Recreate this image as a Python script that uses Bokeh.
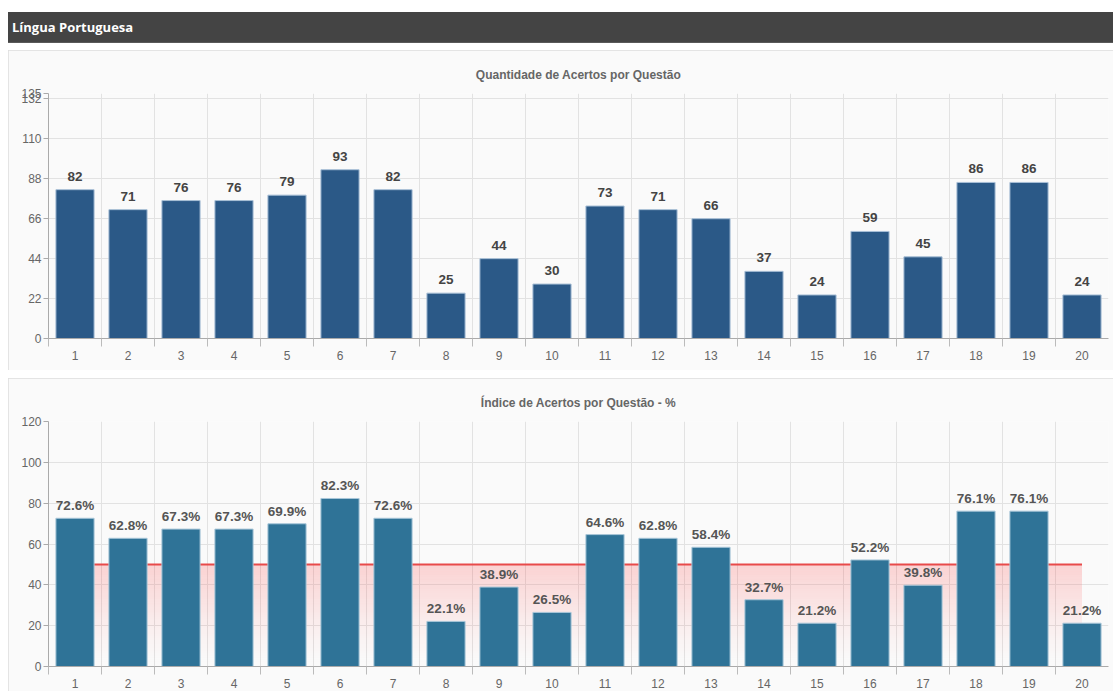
import numpy as np
from bokeh.plotting import figure
from bokeh.models import Range1d, FixedTicker, ColumnDataSource, Spacer, Div
from bokeh.layouts import column, row
from bokeh.embed import file_html
from bokeh.resources import INLINE
from bokeh.core.properties import value

# ---- data ----
questions = list(range(1, 21))
acertos = [82, 71, 76, 76, 79, 93, 82, 25, 44, 30, 73, 71, 66, 37, 24, 59, 45, 86, 86, 24]
indice = [72.6, 62.8, 67.3, 67.3, 69.9, 82.3, 72.6, 22.1, 38.9, 26.5,
          64.6, 62.8, 58.4, 32.7, 21.2, 52.2, 39.8, 76.1, 76.1, 21.2]
top_ticks = [0, 22, 44, 66, 88, 110, 132, 135]
bottom_ticks = [0, 20, 40, 60, 80, 100, 120]
top_max = 135
bottom_max = 120
meta = 50
header_text = "Língua Portuguesa"
title_top = "Quantidade de Acertos por Questão"
title_bottom = "Índice de Acertos por Questão - %"

W = 1105
FONT = "Liberation Sans"
GRID = "#e2e2e2"


def make_panel(title, ymax, yticks, height, mb_bottom):
    p = figure(width=W, height=height,
               x_range=Range1d(0.5, 20.5), y_range=Range1d(0, ymax),
               output_backend="svg", toolbar_location=None,
               min_border_left=40, min_border_right=5,
               min_border_top=43, min_border_bottom=mb_bottom,
               background_fill_color="#fafafa", border_fill_color="#fafafa",
               outline_line_color=None,
               styles={"outline": "1px solid #dddddd", "outline-offset": "-1px"})
    p.title.text = title
    p.title.align = "center"
    p.title.text_font = FONT
    p.title.text_font_size = "12px"
    p.title.text_font_style = "bold"
    p.title.text_color = "#666666"
    p.title.standoff = 23

    xt = FixedTicker(ticks=questions, minor_ticks=[q - 0.5 for q in questions])
    p.xaxis.ticker = xt
    p.xgrid.ticker = xt
    p.xaxis.major_tick_line_color = None
    p.xaxis.major_tick_out = 0
    p.xaxis.major_tick_in = 0
    p.xaxis.minor_tick_out = 8
    p.xaxis.minor_tick_in = 0
    p.xaxis.minor_tick_line_color = "#bbbbbb"
    p.xaxis.major_label_standoff = 4
    p.xgrid.grid_line_color = None
    p.xgrid.minor_grid_line_color = GRID

    yt = FixedTicker(ticks=yticks)
    p.yaxis.ticker = yt
    p.ygrid.ticker = yt
    p.yaxis.minor_tick_line_color = None
    p.yaxis.major_tick_out = 5
    p.yaxis.major_tick_in = 0
    p.yaxis.major_tick_line_color = "#aaaaaa"
    p.yaxis.major_label_standoff = 2
    p.ygrid.grid_line_color = GRID

    for ax in (p.xaxis, p.yaxis):
        ax.axis_line_color = "#aaaaaa"
        ax.major_label_text_font = FONT
        ax.major_label_text_font_size = "12px"
        ax.major_label_text_color = "#666666"
    return p


# ---- header ----
header = Div(text=header_text, width=W, height=31, margin=0,
             styles={"background-color": "#444444", "color": "#ffffff",
                     "font-family": "'Open Sans'", "font-weight": "bold",
                     "font-size": "13px", "line-height": "31px",
                     "padding-left": "4px", "box-sizing": "border-box",
                     "border-bottom": "1px solid #5a5a5a"})

# ---- top chart ----
p1 = make_panel(title_top, top_max, top_ticks, 320, 32)
src1 = ColumnDataSource(dict(x=questions, top=acertos, label=[str(v) for v in acertos]))
p1.vbar(x="x", top="top", width=0.72, source=src1,
        fill_color="#2b5987", line_color="#a8bfd6", line_width=1)
p1.text(x="x", y="top", text="label", source=src1, text_align="center",
        text_baseline="bottom", y_offset=-9, text_font=value(FONT),
        text_font_style="bold", text_font_size="13.5px", text_color="#444444")

# ---- bottom chart ----
p2 = make_panel(title_bottom, bottom_max, bottom_ticks, 313, 25)
n_strips = 50
edges = np.linspace(0, meta, n_strips + 1)
alphas = 0.2 * np.linspace(0.0, 1.0, n_strips) ** 1.3
p2.quad(left=questions[0], right=questions[-1], bottom=edges[:-1], top=edges[1:],
        fill_color="#ff3333", fill_alpha=alphas, line_color=None)
p2.line(x=[questions[0], questions[-1]], y=[meta, meta], line_color="#e84a4a", line_width=2)
src2 = ColumnDataSource(dict(x=questions, top=indice, label=[f"{v:.1f}%" for v in indice]))
p2.vbar(x="x", top="top", width=0.72, source=src2,
        fill_color="#2f7397", line_color="#a8c6d8", line_width=1)
p2.text(x="x", y="top", text="label", source=src2, text_align="center",
        text_baseline="bottom", y_offset=-5, text_font=value(FONT),
        text_font_style="bold", text_font_size="13.5px", text_color="#555555")

inner = column(Spacer(height=12), header, Spacer(height=7), p1, Spacer(height=8), p2, spacing=0)
layout = row(Spacer(width=8), inner, spacing=0)

open("out.html", "w").write(file_html(layout, INLINE))
